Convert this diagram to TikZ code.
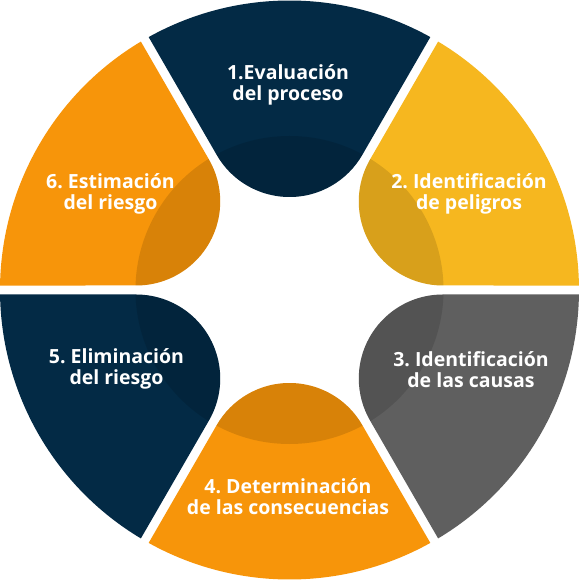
\documentclass[tikz,border=0pt]{standalone}
\usepackage{fontspec}
\setmainfont{Open Sans}
\frenchspacing
\definecolor{navyc}{RGB}{3,42,69}
\definecolor{yellowc}{RGB}{246,183,31}
\definecolor{orangec}{RGB}{247,149,10}
\definecolor{grayc}{RGB}{95,95,95}
\tikzset{
  segshape/.style={insert path={(60.89:289.5) arc[start angle=60.89, end angle=119.11, radius=289.5]
     -- ([shift={(0,177)}]210:84) arc[start angle=210, end angle=330, radius=84] -- cycle}},
  lbl/.style={text=white, align=center, font=\frenchspacing\fontsize{19.5}{21}\selectfont\bfseries, inner sep=0pt}
}
\begin{document}
\begin{tikzpicture}[x=1pt,y=1pt]
\useasboundingbox (-289.5,-290) rectangle (289.5,290);
\foreach \ang/\col in {90/navyc, 30/yellowc, -30/grayc, -90/orangec, -150/navyc, 150/orangec}{
  \begin{scope}[rotate=\ang-90]
    \fill[\col, segshape];
    \begin{scope}
      \clip[segshape];
      \fill[black, opacity=0.12] (0,0) circle (154);
    \end{scope}
  \end{scope}
}
\node[lbl] (l1) at (-1.5,205) {1.Evaluación\\del proceso};
\node[lbl] (l2) at (179.5,96) {2. Identificación\\de peligros};
\node[lbl] (l3) at (181.5,-80) {3. Identificación\\de las causas};
\node[lbl] (l4) at (-1.5,-207) {4. Determinación\\de las consecuencias};
\node[lbl] (l5) at (-173,-79) {5. Eliminación\\del riesgo};
\node[lbl] (l6) at (-179,96.5) {6. Estimación\\del riesgo};
\end{tikzpicture}
\end{document}
